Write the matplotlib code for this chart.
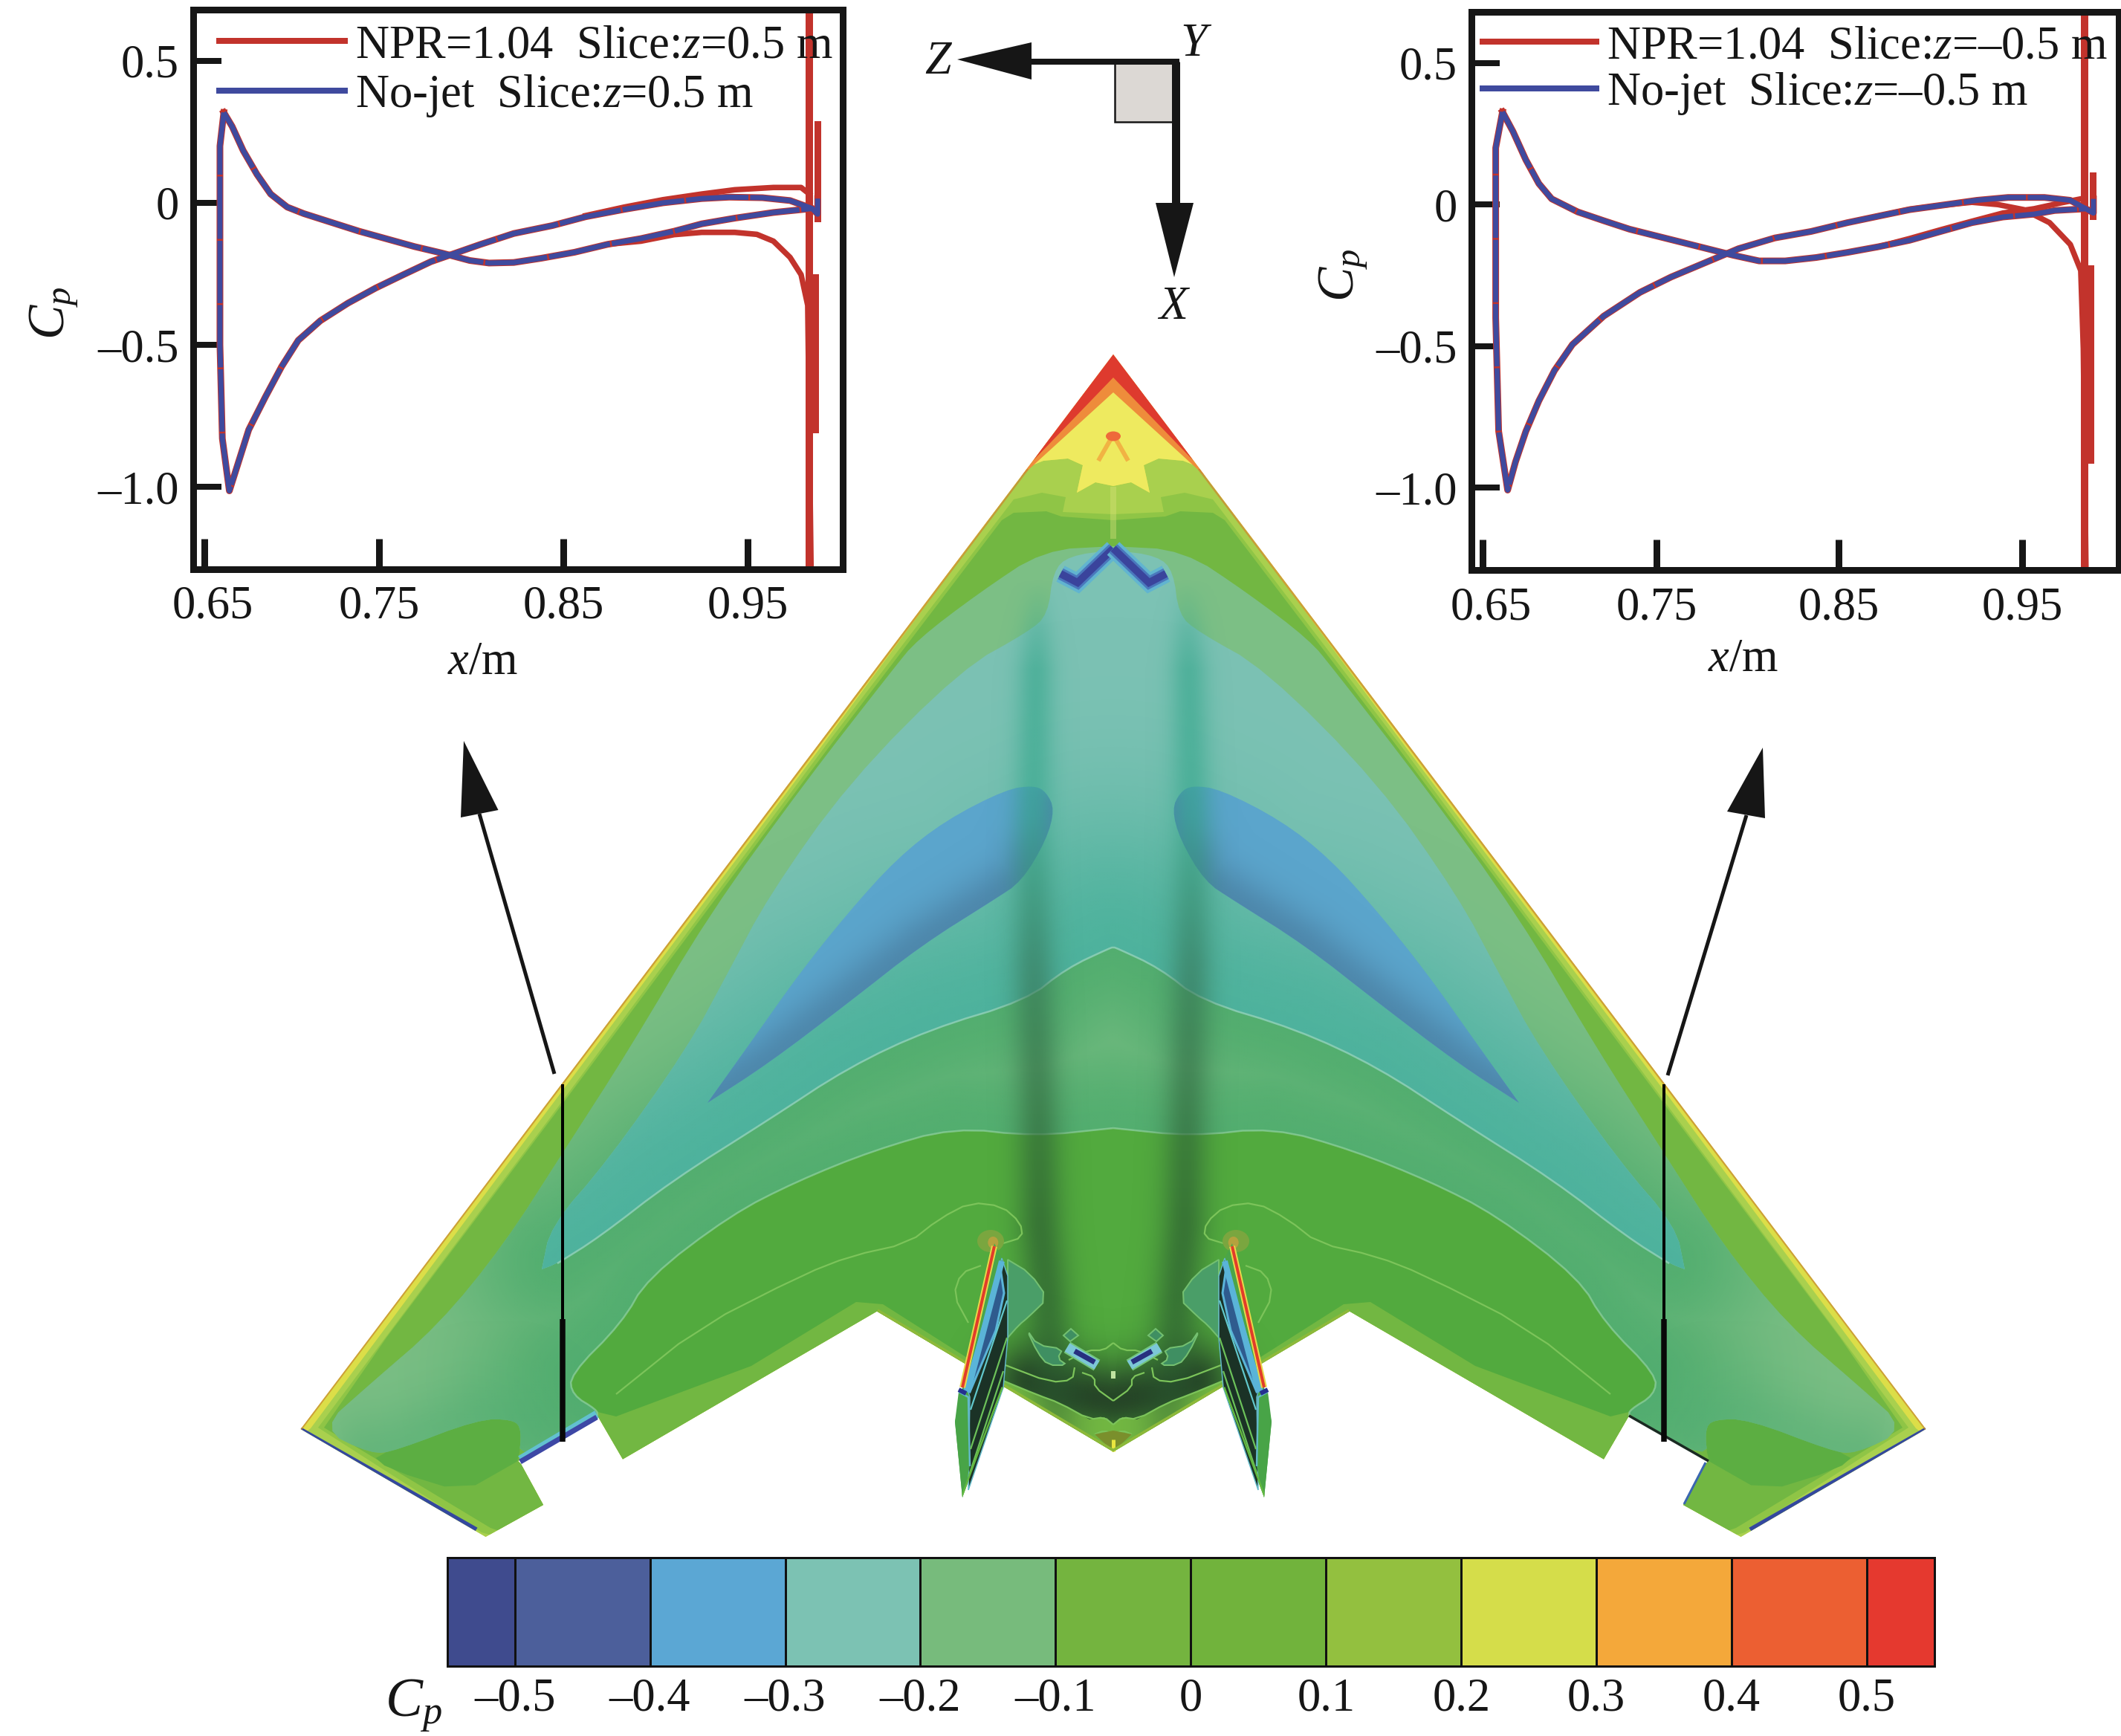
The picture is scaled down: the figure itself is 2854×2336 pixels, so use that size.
#!/usr/bin/env python3
import numpy as np
import matplotlib
matplotlib.use('Agg')
import matplotlib.pyplot as plt
from matplotlib.colors import ListedColormap, BoundaryNorm, to_rgb
from matplotlib.patches import Polygon, Ellipse
from matplotlib.transforms import ScaledTranslation

plt.rcParams['font.family'] = ['Liberation Serif', 'DejaVu Serif']
plt.rcParams['mathtext.fontset'] = 'custom'
plt.rcParams['mathtext.rm'] = 'Liberation Serif'
plt.rcParams['mathtext.it'] = 'Liberation Serif:italic'

W, H, DPI = 2854, 2336, 200
CX = 1498
INK = '#161616'
RED = '#c2332c'
BLUE = '#3f4a9e'

# ---- Cp curves, z = 0.5 m
L_UP_X = [0.6658, 0.6703, 0.6763, 0.6838, 0.6912, 0.7002, 0.7092, 0.7242, 0.7392, 0.7542, 0.7692, 0.7842, 0.7992,
          0.8097, 0.8231, 0.8381, 0.8561, 0.8741, 0.8921, 0.9101, 0.9251, 0.9430, 0.9640, 0.9760, 0.9850, 0.9880, 0.9880]
L_UP_Y = [0.318, 0.269, 0.184, 0.100, 0.031, -0.015, -0.038, -0.069, -0.100, -0.127, -0.154, -0.177, -0.203,
          -0.212, -0.210, -0.195, -0.174, -0.146, -0.126, -0.100, -0.074, -0.054, -0.034, -0.026, -0.020, -0.040, 0.015]
L_LO_X = [0.6658, 0.6637, 0.6637, 0.6650, 0.6688, 0.6733, 0.6793, 0.6883, 0.6972, 0.7062, 0.7182, 0.7332, 0.7482, 0.7632,
          0.7782, 0.7902, 0.8052, 0.8231, 0.8441, 0.8621, 0.8831, 0.9041, 0.9251, 0.9400, 0.9580, 0.9730, 0.9850]
L_LO_Y = [0.318, 0.200, -0.500, -0.830, -1.014, -0.922, -0.799, -0.684, -0.576, -0.484, -0.415, -0.353, -0.300, -0.253,
          -0.207, -0.180, -0.146, -0.108, -0.080, -0.049, -0.023, 0.000, 0.015, 0.020, 0.018, 0.008, -0.020]
L_RED_A_X = [0.8741, 0.8921, 0.9101, 0.9251, 0.9430, 0.9550, 0.9640, 0.9730, 0.9790, 0.9826, 0.9835, 0.9844]
L_RED_A_Y = [-0.146, -0.135, -0.112, -0.104, -0.104, -0.111, -0.135, -0.192, -0.253, -0.361, -0.822, -1.29]
L_RED_B_X = [0.8621, 0.8831, 0.9041, 0.9251, 0.9430, 0.9640, 0.9790, 0.9835]
L_RED_B_Y = [-0.045, -0.015, 0.011, 0.031, 0.046, 0.054, 0.054, 0.031]
L_SPIKES = [(0.9835, 0.68, -1.29, 10), (0.9880, 0.276, -0.054, 9), (0.9855, -0.269, -0.791, 15)]

# ---- Cp curves, z = -0.5 m
R_UP_X = [0.6661, 0.6718, 0.6788, 0.6859, 0.6929, 0.7071, 0.7212, 0.7353, 0.7494, 0.7636, 0.7777, 0.7918, 0.8059,
          0.8201, 0.8370, 0.8540, 0.8709, 0.8879, 0.9048, 0.9218, 0.9387, 0.9556, 0.9669, 0.9839, 0.9880, 0.9880]
R_UP_Y = [0.327, 0.258, 0.158, 0.074, 0.020, -0.026, -0.057, -0.087, -0.110, -0.133, -0.156, -0.179, -0.199,
          -0.199, -0.187, -0.169, -0.149, -0.126, -0.095, -0.064, -0.044, -0.034, -0.021, -0.015, -0.030, 0.020]
R_LO_X = [0.6661, 0.6624, 0.6624, 0.6640, 0.6689, 0.6732, 0.6788, 0.6859, 0.6944, 0.7042, 0.7212, 0.7410, 0.7579, 0.7777,
          0.7946, 0.8144, 0.8342, 0.8540, 0.8709, 0.8879, 0.9048, 0.9246, 0.9415, 0.9613, 0.9754, 0.9839]
R_LO_Y = [0.327, 0.200, -0.400, -0.800, -1.008, -0.908, -0.801, -0.693, -0.586, -0.494, -0.394, -0.310, -0.256, -0.202,
          -0.156, -0.118, -0.095, -0.064, -0.041, -0.018, -0.003, 0.015, 0.025, 0.025, 0.015, -0.015]
R_RED_A_X = [0.8709, 0.8879, 0.9048, 0.9218, 0.9359, 0.9500, 0.9641, 0.9754, 0.9811, 0.9825, 0.9839]
R_RED_A_Y = [-0.041, -0.017, -0.003, 0.008, 0.000, -0.018, -0.064, -0.141, -0.233, -0.509, -1.276]
R_RED_B_X = [0.8709, 0.8879, 0.9048, 0.9218, 0.9387, 0.9556, 0.9697, 0.9811]
R_RED_B_Y = [-0.149, -0.120, -0.089, -0.059, -0.030, -0.015, 0.005, 0.020]
R_SPIKES = [(0.9831, 0.68, -1.29, 10), (0.9876, 0.104, -0.041, 9), (0.9850, -0.233, -0.893, 15)]

Y_TICKS = [0.5, 0, -0.5, -1.0]
Y_LABELS = ['0.5', '0', '\u20130.5', '\u20131.0']
X_LABELS = ['0.65', '0.75', '0.85', '0.95']
L_X_TICKS = [0.6552, 0.75, 0.85, 0.95]
R_X_TICKS = [0.6553, 0.75, 0.8492, 0.9492]

# ---- colour bar
CB_LEVELS = [-0.55, -0.5, -0.4, -0.3, -0.2, -0.1, 0, 0.1, 0.2, 0.3, 0.4, 0.5, 0.55]
CB_COLORS = ['#3f4b8e', '#4c5f9b', '#5ba7d4', '#7cc2b3', '#77bb7c', '#74b43f', '#71b33c', '#93c03f',
             '#d5dd4a', '#f4a83a', '#ec5f32', '#e5392f']
CB_TICKS = [-0.5, -0.4, -0.3, -0.2, -0.1, 0, 0.1, 0.2, 0.3, 0.4, 0.5]
CB_LABELS = ['\u20130.5', '\u20130.4', '\u20130.3', '\u20130.2', '\u20130.1', '0', '0.1', '0.2', '0.3', '0.4', '0.5']

# ---- wing contours, half span: (distance from centre line, y on the picture)
WING = [(0, 477), (1093.5, 1923), (844.5, 2068), (767, 2025), (797, 1970), (801, 1966), (694, 1905), (660, 1963.5),
        (318, 1764.5), (0, 1953.5)]
NOSE_ORANGE = [(0, 470), (125, 642), (0, 528)]
NOSE_RED = [(0, 470), (108, 620), (0, 508)]
STAR = [(0, 520), (114, 628), (94, 620), (61, 617), (41, 626), (49, 663), (24, 649), (0, 654)]
LEVEL_LIGHT = [(0, 654), (24, 649), (49, 663), (41, 626), (61, 617), (94, 620), (114, 628), (391, 1002), (767, 1502),
               (1080, 1922), (1300, 2100), (0, 2100)]
LEVEL_01 = [(0, 692), (68, 689), (64, 669), (96, 663), (134, 672), (386, 1002), (760, 1507), (1070, 1921),
            (850, 2062), (650, 2120), (0, 2120)]
LEVEL_00 = [(0, 700), (70, 695), (90, 688), (134, 690), (150, 700), (380, 1002), (752, 1500), (978, 1800), (1062, 1921),
            (838, 2056), (650, 2120), (0, 2120)]
TIP_DARK = [(998, 1957), (855, 1910), (808, 1910), (796, 1923), (800, 1965), (808, 1970), (875, 2008), (975, 1977)]
LEVEL_M1 = [(0, 1400), (600, 1500), (731, 1850), (728, 1877), (694, 1900), (669, 1906), (487, 1838),
            (346, 1752), (310, 1755), (148, 1858), (102, 1877), (72, 1888), (32, 1910), (12, 1907), (0, 1917)]
LEVEL_M2_OUT = [(0, 735), (94, 740), (181, 798), (264, 861), (296, 900), (415, 1053), (545, 1232), (650, 1410),
                (740, 1550), (820, 1675), (908, 1783), (1001, 1863), (1068, 1923), (998, 1957), (965, 1952), (855, 1910),
                (808, 1910), (796, 1923), (800, 1965)]
LEVEL_M2_LOW = [(694, 1905), (695, 1897), (728, 1877), (731, 1850), (661, 1780), (627, 1720), (515, 1635), (427, 1590),
                (323, 1548), (215, 1517), (106, 1529), (0, 1518)]
TIP_PATH = [(998, 1957), (965, 1952), (855, 1910), (808, 1910), (796, 1923)]
LEVEL_M3_OUT = [(0, 740), (60, 748), (81, 769), (88, 827), (114, 850), (204, 900), (356, 1053), (464, 1206), (518, 1308),
                (573, 1410), (681, 1563), (757, 1650), (769, 1708), (769, 1708)]
LEVEL_M3_LOW = [(748, 1700), (692, 1665), (594, 1589), (464, 1507), (356, 1436), (247, 1385), (117, 1346), (63, 1303),
                (3, 1275), (0, 1275)]
BLOB = [(106, 1057), (144, 1062), (226, 1104), (291, 1155), (356, 1227), (421, 1308), (486, 1400), (546, 1484), (546, 1484),
        (546, 1484), (464, 1431), (356, 1349), (258, 1272), (161, 1211), (123, 1186), (90, 1130), (79, 1089), (90, 1066)]
BLOB_LOW = [(546, 1484), (464, 1431), (356, 1349), (258, 1272), (161, 1211), (123, 1186), (90, 1130), (79, 1089)]
CHEVRON = [(0, 738), (48, 784), (71, 772)]
NOSE_ARMS = [(0, 585), (20, 620)]
REAR_CHEVRON = [(62, 1813), (22, 1837)]
REAR_CHEVRON_CORE = [(52, 1818), (25, 1833)]
# nacelle shadow, read at several heights
SHADOW_Y = [780, 900, 1100, 1300, 1500, 1650, 1750, 1850, 1950]
SHADOW_DZ = [100, 103, 107, 106, 100, 97, 88, 80, 70]
SHADOW_WIDTH = [20, 26, 28, 30, 31, 32, 33, 34, 34]
SHADOW_ALPHA = [0, 0.6, 0.6, 0.6, 0.6, 0.65, 0.65, 0.55, 0.2]
SHADOW_TINT = ['#35a78c', '#35a78c', '#35a78c', '#37785a', '#30663a', '#2a5a30', '#2a5a30', '#2a5a30', '#2a5a30']
REAR_DARK = [(0, 1885), (70, 1875), (110, 1860)]
HALO_LINE = [(148, 1673), (122, 1665), (125, 1645), (150, 1623), (192, 1618), (234, 1640), (276, 1673), (353, 1690), (417, 1715),
             (557, 1786), (669, 1876)]
FIN_HALO = [(142, 1695), (112, 1713), (88, 1747), (115, 1773), (127, 1783), (142, 1800)]
FIN_RING = [(178, 1703), (205, 1713), (215, 1743), (195, 1780)]
REAR_PATCH = [(117, 1788), (102, 1810), (68, 1815), (75, 1828), (62, 1837), (88, 1837), (102, 1820)]
REAR_KNOB = [(67, 1797), (57, 1788), (47, 1797), (58, 1805)]
REAR_LINE_A = [(52, 1840), (55, 1857), (85, 1860), (145, 1837)]
REAR_LINE_B = [(148, 1858), (102, 1877), (72, 1888), (32, 1910), (12, 1907), (0, 1917)]
REAR_LINE_C = [(42, 1847), (25, 1853), (25, 1867), (0, 1885)]
REAR_LINE_D = [(25, 1930), (12, 1925), (0, 1930)]
REAR_LINE_E = [(60, 1830), (35, 1817), (13, 1817), (0, 1807)]
REAR_OLIVE = [(0, 1925), (25, 1930), (0, 1953)]
BODY_EDGE = [(318, 1764.5), (0, 1953.5)]
FIN = [(160, 1673), (203, 1867), (213, 1913), (203, 2015), (148, 1867), (142, 1800), (142, 1717), (150, 1693)]
FIN_DARK = [(150, 1693), (142, 1717), (142, 1800), (148, 1867), (195, 2005), (193, 1880), (195, 1873)]
FIN_BLUE = [(152, 1706), (147, 1740), (158, 1790), (193, 1873), (200, 1870)]
FIN_GREEN = [(208, 1873), (195, 1880), (193, 1973), (203, 2015), (213, 1913)]
FIN_NAVY = [(208, 1870), (198, 1875)]
FIN_RED = [(160, 1677), (203, 1867)]
FIN_CYAN = [(150, 1697), (196, 1873)]
FIN_STREAK_A = [(143, 1750), (192, 1897)]
FIN_STREAK_B = [(143, 1800), (192, 1950)]
FIN_STREAK_C = [(148, 1845), (194, 1985)]
FIN_EDGE = [(148, 1867), (203, 2015)]
TIP_EDGE = [(1095, 1925), (858, 2060)]
SECTION_THIN_Y = [1459, 1775]
SECTION_THICK_Y = [1775, 1940]
SECTION_X = [757, 2239]

# ---- arrows and axis triad
ARROW_L = [(746, 1445), (645, 1095)]
HEAD_L = [(624, 997), (620, 1100), (670.5, 1090)]
ARROW_R = [(2244, 1447), (2350, 1097)]
HEAD_R = [(2372, 1006), (2324, 1092), (2375, 1101)]
Z_LINE = [(1388, 83), (1587, 83)]
Z_HEAD = [(1288, 80), (1388, 57), (1388, 107)]
X_LINE = [(1582, 83), (1582, 275)]
X_HEAD = [(1555, 273), (1606, 273), (1580, 373)]
BOX = [(1500, 85), (1580, 85), (1580, 164), (1500, 164)]

xg, yg = np.meshgrid(np.arange(0, W + 4, 4.0), np.arange(0, H + 4, 4.0))


def px(v):
    return v * 72 / DPI


def box_axes(left, top, right, bottom):
    return fig.add_axes([left / W, 1 - bottom / H, (right - left) / W, (bottom - top) / H])


def chaikin(points, rounds=2, wrap=False):
    p = np.array(points, float)
    for _ in range(rounds):
        q = np.roll(p, -1, axis=0) if wrap else p[1:]
        a = p if wrap else p[:-1]
        cut = np.empty((2 * len(a), 2))
        cut[0::2] = 0.75 * a + 0.25 * q
        cut[1::2] = 0.25 * a + 0.75 * q
        p = cut if wrap else np.vstack([p[:1], cut, p[-1:]])
    return p


def closed(half):
    # left half then the mirrored right half
    d = np.array(half, float)
    return np.r_[np.c_[CX - d[:, 0], d[:, 1]], np.c_[CX + d[::-1, 0], d[::-1, 1]]]


def sides(half):
    d = np.array(half, float)
    return [np.c_[CX - d[:, 0], d[:, 1]], np.c_[CX + d[:, 0], d[:, 1]]]


def across(half):
    s = sides(half)
    return np.vstack([s[0], s[1][::-1]])


z = [1]


def nz():
    z[0] += 1
    return z[0]


def fill(points, color, clip=None, **kw):
    p = Polygon(points, closed=True, facecolor=color, edgecolor=kw.pop('ec', 'none'), lw=kw.pop('lw', 0), zorder=nz(), **kw)
    ax.add_patch(p)
    p.set_clip_path(wing if clip is None else clip)
    return p


def stroke(points, color, width, clip=None, **kw):
    kw.setdefault('solid_capstyle', 'butt')
    pts = np.asarray(points)
    ln, = ax.plot(pts[:, 0], pts[:, 1], color=color, lw=px(width), zorder=nz(), **kw)
    if clip is not None:
        ln.set_clip_path(clip)
    return ln


def distance(paths):
    best = np.full(xg.shape, np.inf)
    for path in paths:
        for a, b in zip(path[:-1], path[1:]):
            ab = b - a
            t = ((xg - a[0]) * ab[0] + (yg - a[1]) * ab[1]) / max((ab ** 2).sum(), 1e-9)
            t = np.clip(t, 0, 1)
            best = np.minimum(best, np.hypot(xg - a[0] - t * ab[0], yg - a[1] - t * ab[1]))
    return best


def paint(rgba, clip):
    im = ax.imshow(rgba, extent=(0, W, H, 0), interpolation='bilinear', aspect='auto', zorder=nz())
    im.set_clip_path(clip)
    ax.set_xlim(0, W)
    ax.set_ylim(H, 0)


def shade(paths, color, sigma, amax, clip):
    rgba = np.zeros(xg.shape + (4,))
    rgba[..., :3] = to_rgb(color)
    rgba[..., 3] = amax * np.exp(-(distance(paths) / sigma) ** 2)
    paint(rgba, clip)


def inset(box, up, lo, red_a, red_b, spikes, xticks, xlim, ylim, legend_z, legend_xy, handle_len, spacing, ylab_xy, xlab_xy):
    a = box_axes(*box)
    a.plot(up[0], up[1], color=RED, lw=px(9), zorder=2)
    a.plot(lo[0], lo[1], color=RED, lw=px(9), zorder=2)
    h_red, = a.plot(red_a[0], red_a[1], color=RED, lw=px(7.5), zorder=2)
    a.plot(red_b[0], red_b[1], color=RED, lw=px(7.5), zorder=2)
    for sx, s0, s1, sw in spikes:
        a.plot([sx, sx], [s0, s1], color=RED, lw=px(sw), zorder=2)
    a.plot(up[0], up[1], color=BLUE, lw=px(7), zorder=3, ls=(0, (12, 0.35)))
    h_blue, = a.plot(lo[0], lo[1], color=BLUE, lw=px(7), zorder=3, ls=(0, (12, 0.35)))
    a.set_xlim(*xlim)
    a.set_ylim(*ylim)
    a.set_xticks(xticks)
    a.set_xticklabels(X_LABELS)
    a.set_yticks(Y_TICKS)
    a.set_yticklabels(Y_LABELS)
    a.tick_params(axis='both', direction='in', labelsize=22.5, colors=INK)
    a.tick_params(axis='x', length=px(41), width=px(9), pad=px(22))
    a.tick_params(axis='y', length=px(38), width=px(8), pad=px(19))
    # first x label sits a bit right of its tick
    lab0 = a.get_xticklabels()[0]
    lab0.set_transform(lab0.get_transform() + ScaledTranslation(11 / DPI, 0, fig.dpi_scale_trans))
    for s in a.spines.values():
        s.set_linewidth(px(9))
        s.set_color(INK)
    a.set_ylabel('$C_p$', fontsize=25, color=INK)
    a.yaxis.set_label_coords(*ylab_xy)
    a.set_xlabel('$x$/m', fontsize=22.5, color=INK)
    a.xaxis.set_label_coords(*xlab_xy)
    leg = a.legend([h_red, h_blue],
                   ['NPR=1.04  Slice:$z$=%s m' % legend_z, 'No-jet  Slice:$z$=%s m' % legend_z],
                   loc='upper left', bbox_to_anchor=legend_xy, frameon=False, fontsize=22.5,
                   handlelength=handle_len, handletextpad=0.23, labelspacing=spacing, borderaxespad=0, borderpad=0)
    for t in leg.get_texts():
        t.set_color(INK)
    for ln in leg.get_lines():
        ln.set_linewidth(px(8))
        ln.set_linestyle('-')
    return a


fig = plt.figure(figsize=(W / DPI, H / DPI), dpi=DPI, facecolor='white')
ax = fig.add_axes([0, 0, 1, 1])
ax.set_xlim(0, W)
ax.set_ylim(H, 0)
ax.axis('off')

# ---- wing
wing = Polygon(closed(WING), closed=True, facecolor='#dcde48', edgecolor='none', zorder=nz())
ax.add_patch(wing)
fill(closed(LEVEL_LIGHT), '#a9d04e')
fill(closed(STAR), '#eeea5f')
fill(closed(NOSE_ORANGE), '#ee8c3b')
fill(closed(NOSE_RED), '#de3a2e')
fill(closed(LEVEL_01), '#8fc546')
fill(closed(LEVEL_00), '#72b742')
for side in sides(TIP_DARK):
    fill(chaikin(side, 1, True), '#5cae42')
m1 = fill(closed(LEVEL_M1), '#52aa3e')
shade(sides(REAR_DARK), '#223d25', 52, 0.92, m1)
m2 = fill(closed(chaikin(LEVEL_M2_OUT + LEVEL_M2_LOW)), '#7cbf85')
shade([across(LEVEL_M2_LOW), across(LEVEL_M3_LOW)], '#50ad6e', 135, 0.92, m2)
shade(sides(TIP_PATH), '#50ad72', 60, 0.5, m2)
m3 = fill(closed(chaikin(LEVEL_M3_OUT + LEVEL_M3_LOW)), '#7cc2b4')
shade([across(LEVEL_M3_LOW)], '#4cb29c', 190, 0.95, m3)
for side, low in zip(sides(BLOB), sides(BLOB_LOW)):
    b = fill(chaikin(side, 2, True), '#5ba5cc')
    shade([low], '#4a7fa2', 40, 0.75, b)
for side in sides(chaikin(LEVEL_M3_LOW)):
    stroke(side, '#8fd0b8', 2.5, clip=wing, alpha=0.85)
for side in sides(chaikin(LEVEL_M2_LOW)):
    stroke(side, '#8fd0a0', 2.5, clip=wing, alpha=0.7)

# nose details
for side in sides(NOSE_ARMS):
    stroke(side, '#f2a63c', 6, alpha=0.8)
ax.add_patch(Ellipse((CX, 587), 20, 13, facecolor='#ee6a3a', edgecolor='none', zorder=nz()))
stroke([(CX, 655), (CX, 725)], '#d9e27a', 8, alpha=0.4)

# nacelle shadows
tint = np.array([to_rgb(c) for c in SHADOW_TINT])
row = yg[:, 0]
centre = np.interp(row, SHADOW_Y, SHADOW_DZ)
width = np.interp(row, SHADOW_Y, SHADOW_WIDTH)
alpha = np.interp(row, SHADOW_Y, SHADOW_ALPHA)
rgba = np.zeros(xg.shape + (4,))
for i in range(3):
    rgba[..., i] = np.interp(row, SHADOW_Y, tint[:, i])[:, None]
rgba[..., 3] = alpha[:, None] * np.exp(-((np.abs(xg - CX) - centre[:, None]) / width[:, None]) ** 2)
paint(rgba, wing)

# rear contours
for side in sides(FIN_HALO):
    fill(chaikin(side, 1), '#4a9e68', ec='#74c070', lw=px(2))
for side in sides(REAR_PATCH):
    fill(chaikin(side, 1, True), '#3f8f62', ec='#74c070', lw=px(2))
for side in sides(REAR_KNOB):
    fill(side, '#3f8f62', ec='#74c070', lw=px(2))
for line in (REAR_LINE_A, REAR_LINE_B, REAR_LINE_C, REAR_LINE_D, REAR_LINE_E, FIN_RING, HALO_LINE):
    for side in sides(chaikin(line, 1)):
        stroke(side, '#7cc45a', 2.2, clip=wing)
fill(closed(REAR_OLIVE), '#7a8f2c')
stroke([(CX, 1937), (CX, 1953)], '#e9e63f', 5)
stroke([(CX, 1845), (CX, 1855)], '#bfe3a0', 6)
for side in sides(BODY_EDGE):
    stroke(side, '#8db93a', 7, clip=wing)
for dx in (-165, 165):
    ax.add_patch(Ellipse((CX + dx, 1670), 36, 30, facecolor='#7aa63f', edgecolor='none', zorder=nz()))
    ax.add_patch(Ellipse((CX + dx * 0.98, 1672), 14, 16, facecolor='#b5a23e', edgecolor='none', zorder=nz()))

# chevrons
for side in sides(CHEVRON):
    stroke(side, '#61b4d0', 24, solid_joinstyle='miter')
    stroke(side, '#4a78bd', 16, solid_joinstyle='miter')
    stroke(side, '#3a449c', 10, solid_joinstyle='miter')
for side, core in zip(sides(REAR_CHEVRON), sides(REAR_CHEVRON_CORE)):
    stroke(side, '#74c57a', 17)
    stroke(side, '#7cc7d6', 13)
    stroke(core, '#27307f', 7)

# fins
for side, dark, blue, green, navy, red, cyan, s_a, s_b, s_c, edge in zip(
        sides(FIN), sides(FIN_DARK), sides(FIN_BLUE), sides(FIN_GREEN), sides(FIN_NAVY), sides(FIN_RED), sides(FIN_CYAN),
        sides(FIN_STREAK_A), sides(FIN_STREAK_B), sides(FIN_STREAK_C), sides(FIN_EDGE)):
    f = Polygon(side, closed=True, facecolor='#4aa548', edgecolor='none', zorder=nz())
    ax.add_patch(f)
    ax.add_patch(Polygon(dark, closed=True, facecolor='#1b3226', edgecolor='#62b8c8', lw=px(1.5), zorder=nz()))
    ax.add_patch(Polygon(blue, closed=True, facecolor='#2f5b8e', edgecolor='#5ab4d8', lw=px(3), zorder=nz()))
    ax.add_patch(Polygon(green, closed=True, facecolor='#48a447', edgecolor='none', zorder=nz()))
    stroke(green[:3], '#62b8c8', 2.5)
    stroke(s_a, '#62c8cc', 2.2, clip=f)
    stroke(s_b, '#6cc25a', 2.2, clip=f)
    stroke(s_c, '#6cc25a', 2.2, clip=f)
    stroke(edge, '#62b840', 5, clip=f)
    stroke(cyan, '#5ab4d8', 8)
    stroke(red, '#e8d84a', 8)
    stroke(red, '#e23c2a', 4)
    stroke(navy, '#26308f', 6)

# edges
for side in sides(TIP_EDGE):
    stroke(side, '#33479f', 10, clip=wing)
stroke([(700, 1964), (803, 1903)], '#62c0d0', 11)
stroke([(700, 1967), (803, 1907)], '#3d47a5', 7)
stroke([(2192, 1905), (2299, 1966)], '#1a2a22', 3.5)
stroke([(2295, 1968), (2266, 2024)], '#3a66b0', 3)
for side in sides([(1093, 1923), (115, 631)]):
    stroke(side, '#c98a32', 3, clip=wing, alpha=0.75)

# section lines
for sx in SECTION_X:
    stroke([(sx, SECTION_THIN_Y[0]), (sx, SECTION_THIN_Y[1])], '#000000', 4)
    stroke([(sx, SECTION_THICK_Y[0]), (sx, SECTION_THICK_Y[1])], '#080808', 7.5)

# ---- arrows
stroke(ARROW_L, INK, 5)
ax.fill(*zip(*HEAD_L), color=INK, lw=0, zorder=nz())
stroke(ARROW_R, INK, 5)
ax.fill(*zip(*HEAD_R), color=INK, lw=0, zorder=nz())
ax.add_patch(Polygon(BOX, closed=True, facecolor='#dcd8d4', edgecolor=INK, lw=px(2.5), zorder=nz()))
stroke(Z_LINE, INK, 8)
ax.fill(*zip(*Z_HEAD), color=INK, lw=0, zorder=nz())
stroke(X_LINE, INK, 11)
ax.fill(*zip(*X_HEAD), color=INK, lw=0, zorder=nz())
for label, tx, ty in (('Z', 1263, 84), ('Y', 1610, 60), ('X', 1580, 414)):
    ax.text(tx, ty, '$%s$' % label, fontsize=23, ha='center', va='center', color=INK, zorder=nz())
ax.text(556, 2294, '$C_p$', fontsize=27, ha='center', va='center', color=INK)

# ---- line charts
inset((260, 13, 1134, 766), (L_UP_X, L_UP_Y), (L_LO_X, L_LO_Y), (L_RED_A_X, L_RED_A_Y), (L_RED_B_X, L_RED_B_Y), L_SPIKES,
      L_X_TICKS, (0.6492, 1.0016), (-1.29, 0.68), '0.5', (0.04, 0.973), 2.7, 0.1, (-0.174, 0.458), (0.446, -0.128))
inset((1980, 16, 2851, 767), (R_UP_X, R_UP_Y), (R_LO_X, R_LO_Y), (R_RED_A_X, R_RED_A_Y), (R_RED_B_X, R_RED_B_Y), R_SPIKES,
      R_X_TICKS, (0.6492, 1.0018), (-1.29, 0.68), '\u20130.5', (0.017, 0.976), 2.45, 0.05, (-0.157, 0.528), (0.42, -0.122))

# ---- colour bar
cax = box_axes(601.7, 2096, 2603, 2242)
cax.pcolormesh(CB_LEVELS, [0, 1], [np.arange(len(CB_COLORS))], cmap=ListedColormap(CB_COLORS),
               norm=BoundaryNorm(np.arange(len(CB_COLORS) + 1) - 0.5, len(CB_COLORS)), edgecolors='#111111', linewidth=px(2.5))
cax.set_xlim(CB_LEVELS[0], CB_LEVELS[-1])
cax.set_ylim(0, 1)
cax.set_yticks([])
cax.set_xticks(CB_TICKS)
cax.set_xticklabels(CB_LABELS)
cax.tick_params(axis='x', length=0, labelsize=22.5, pad=px(16), colors=INK)
for s in cax.spines.values():
    s.set_linewidth(px(3))
    s.set_color('#111111')

fig.savefig('out.png', dpi=DPI, facecolor='white')
plt.close(fig)
